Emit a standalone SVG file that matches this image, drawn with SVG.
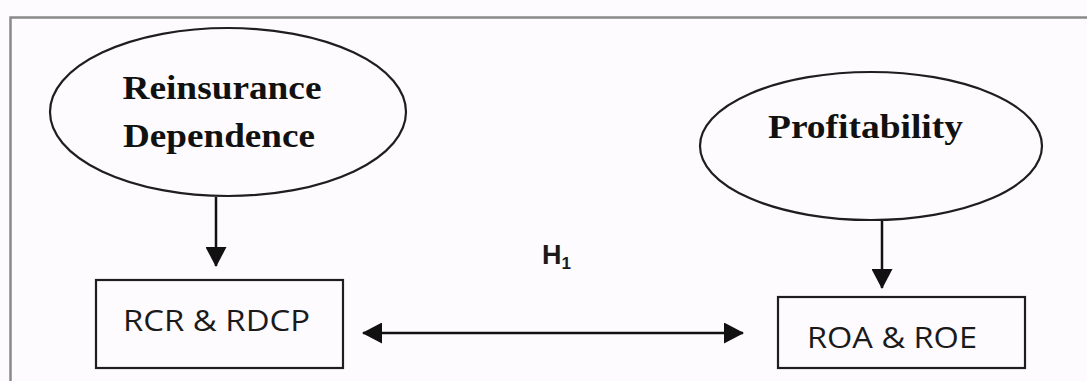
<svg xmlns="http://www.w3.org/2000/svg" width="1087" height="381" viewBox="0 0 1087 381">
<defs>
<style>
.frame{fill:none;stroke:#8a8a8a;stroke-width:2.5}
.shape{fill:none;stroke:#1e1e1e;stroke-width:2.2}
.ell{font-family:"Liberation Serif","Times New Roman",serif;font-weight:bold;font-size:33px;fill:#111}
.box{font-family:"Open Sans","Liberation Sans",sans-serif;font-size:30px;fill:#1a1a1a}
.lbl{font-family:"Liberation Sans",Arial,sans-serif;font-weight:bold;fill:#1a1a1a}
.conn{stroke:#111;stroke-width:2.5;fill:none}
</style>
<marker id="ah" markerWidth="8" markerHeight="8.4" refX="7.6" refY="4.2" orient="auto-start-reverse" markerUnits="strokeWidth" viewBox="0 0 8 8.4">
<path d="M0,0 L8,4.2 L0,8.4 Z" fill="#111"/>
</marker>
</defs>
<rect x="0" y="0" width="1087" height="381" fill="#fdfbfd"/>
<path class="frame" d="M10.5,381 V17.5 H1087"/>
<g id="reinsurance">
<ellipse class="shape" cx="228" cy="112" rx="178" ry="84"/>
<text class="ell" x="222" y="99" text-anchor="middle" textLength="199" lengthAdjust="spacingAndGlyphs">Reinsurance</text>
<text class="ell" x="219" y="147" text-anchor="middle" textLength="192" lengthAdjust="spacingAndGlyphs">Dependence</text>
</g>
<g id="profitability">
<ellipse class="shape" cx="871" cy="146" rx="171" ry="74"/>
<text class="ell" x="865.5" y="138" text-anchor="middle" textLength="195" lengthAdjust="spacingAndGlyphs">Profitability</text>
</g>
<g id="rcr">
<rect class="shape" x="96" y="280" width="247" height="88"/>
<text class="box" x="123" y="331" textLength="187" lengthAdjust="spacingAndGlyphs">RCR &amp; RDCP</text>
</g>
<g id="roa">
<rect class="shape" x="778" y="297" width="247" height="71"/>
<text class="box" x="807" y="348" textLength="170" lengthAdjust="spacingAndGlyphs">ROA &amp; ROE</text>
</g>
<g id="h1">
<text class="lbl" x="542" y="264" font-size="27">H<tspan font-size="17" dy="5">1</tspan></text>
</g>
<g id="connectors">
<line class="conn" x1="216" y1="197" x2="216" y2="266" marker-end="url(#ah)"/>
<line class="conn" x1="882" y1="221" x2="882" y2="288" marker-end="url(#ah)"/>
<line class="conn" x1="363" y1="333" x2="743" y2="333" marker-start="url(#ah)" marker-end="url(#ah)"/>
</g>
</svg>
